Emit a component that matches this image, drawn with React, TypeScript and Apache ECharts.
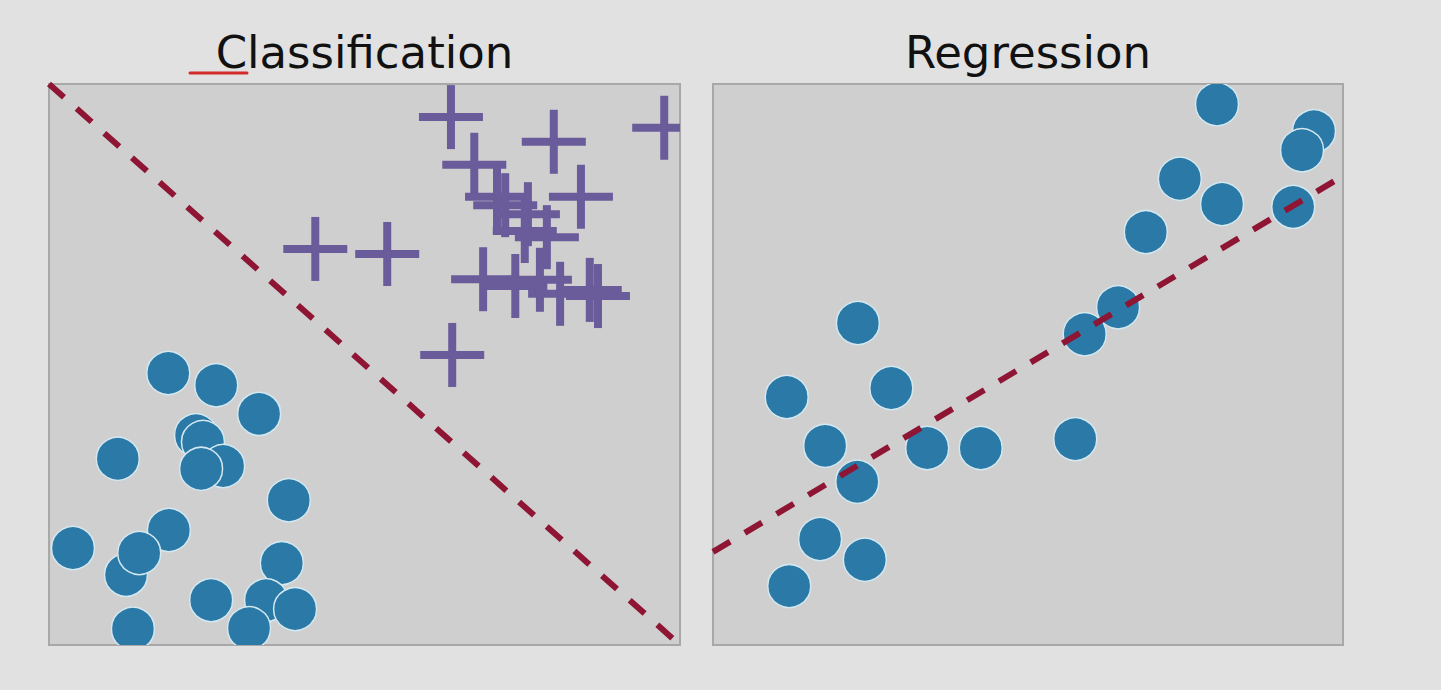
import React, { useEffect, useRef } from "react";
import * as echarts from "echarts";

// Left panel (Classification): data space 0..10 on both axes
const classCrosses: number[][] = [
  [6.37, 9.41], [8.0, 8.97], [9.75, 9.22], [6.74, 8.56], [7.1, 7.99],
  [8.43, 7.99], [7.59, 7.68], [7.54, 7.38], [7.89, 7.27], [7.23, 7.84],
  [4.22, 7.06], [5.36, 6.97], [6.88, 6.52], [7.39, 6.4], [8.1, 6.26],
  [8.57, 6.33], [8.7, 6.22], [7.78, 6.51], [6.39, 5.17],
];
const classCircles: number[][] = [
  [1.89, 4.85], [2.65, 4.63], [3.33, 4.12], [2.33, 3.74], [2.44, 3.62],
  [2.76, 3.19], [2.41, 3.14], [1.09, 3.32], [3.8, 2.58], [1.9, 2.05],
  [0.38, 1.73], [1.22, 1.25], [1.43, 1.64], [3.69, 1.46], [2.57, 0.8],
  [3.44, 0.8], [3.9, 0.64], [1.33, 0.29], [3.17, 0.3],
];
const classBoundary: number[][] = [[0, 10], [10, 0]];

// Right panel (Regression)
const regCircles: number[][] = [
  [8.0, 9.64], [9.54, 9.16], [9.35, 8.82], [7.41, 8.31], [8.08, 7.86],
  [9.21, 7.81], [6.87, 7.36], [6.43, 6.02], [5.9, 5.54], [2.3, 5.74],
  [1.17, 4.42], [2.83, 4.58], [1.78, 3.55], [2.29, 2.91], [3.4, 3.51],
  [4.25, 3.51], [5.75, 3.67], [1.7, 1.89], [2.41, 1.52], [1.21, 1.05],
];
const regLine: number[][] = [[0, 1.66], [10, 8.36]];

const titles = ["Classification", "Regression"];

const CIRCLE_R = 21.5;
const PLUS_HALF = 32;
const PLUS_THICK = 8;

const renderCircle = (params: any, api: any) => {
  const p = api.coord([api.value(0), api.value(1)]);
  return {
    type: "circle",
    shape: { cx: p[0], cy: p[1], r: CIRCLE_R },
    style: { fill: "#2a79a7", stroke: "#d3e8f0", lineWidth: 1.5 },
  };
};

const renderPlus = (params: any, api: any) => {
  const p = api.coord([api.value(0), api.value(1)]);
  const fill = "#6a5b9b";
  return {
    type: "group",
    children: [
      {
        type: "rect",
        shape: { x: p[0] - PLUS_HALF, y: p[1] - PLUS_THICK / 2, width: PLUS_HALF * 2, height: PLUS_THICK },
        style: { fill },
      },
      {
        type: "rect",
        shape: { x: p[0] - PLUS_THICK / 2, y: p[1] - PLUS_HALF, width: PLUS_THICK, height: PLUS_HALF * 2 },
        style: { fill },
      },
    ],
  };
};

export default function App() {
  const ref = useRef<HTMLDivElement>(null);
  useEffect(() => {
    if (!ref.current) return;
    const chart = echarts.init(ref.current, null, { renderer: "svg" });
    const axisCommon = { type: "value", min: 0, max: 10, show: false };
    const dashStyle = {
      color: "#8e1533",
      width: 6,
      type: [20, 17],
      cap: "butt",
    };
    chart.setOption({
      animation: false,
      backgroundColor: "#e1e1e1",
      grid: [
        {
          left: 49, top: 84, width: 631, height: 561, show: true,
          backgroundColor: "#cfcfcf", borderColor: "#a8a8a8", borderWidth: 2,
        },
        {
          left: 713, top: 84, width: 630, height: 561, show: true,
          backgroundColor: "#cfcfcf", borderColor: "#a8a8a8", borderWidth: 2,
        },
      ],
      xAxis: [
        { ...axisCommon, gridIndex: 0 },
        { ...axisCommon, gridIndex: 1 },
      ],
      yAxis: [
        { ...axisCommon, gridIndex: 0 },
        { ...axisCommon, gridIndex: 1 },
      ],
      graphic: [
        {
          type: "text", x: 364.5, y: 52,
          style: {
            text: titles[0], fontSize: 45, fontFamily: "DejaVu Sans",
            fill: "#111", align: "center", verticalAlign: "middle",
          },
        },
        {
          type: "text", x: 1028, y: 52,
          style: {
            text: titles[1], fontSize: 45, fontFamily: "DejaVu Sans",
            fill: "#111", align: "center", verticalAlign: "middle",
          },
        },
        {
          type: "line",
          shape: { x1: 190, y1: 73, x2: 247, y2: 73 },
          style: { stroke: "#d42a2a", lineWidth: 3, lineCap: "round" },
        },
      ],
      series: [
        {
          type: "custom", xAxisIndex: 0, yAxisIndex: 0, data: classCrosses,
          renderItem: renderPlus, clip: true, encode: { x: 0, y: 1 },
        },
        {
          type: "custom", xAxisIndex: 0, yAxisIndex: 0, data: classCircles,
          renderItem: renderCircle, clip: true, encode: { x: 0, y: 1 },
        },
        {
          type: "line", xAxisIndex: 0, yAxisIndex: 0, data: classBoundary,
          showSymbol: false, symbol: "none", lineStyle: dashStyle, z: 5,
        },
        {
          type: "custom", xAxisIndex: 1, yAxisIndex: 1, data: regCircles,
          renderItem: renderCircle, clip: true, encode: { x: 0, y: 1 },
        },
        {
          type: "line", xAxisIndex: 1, yAxisIndex: 1, data: regLine,
          showSymbol: false, symbol: "none", lineStyle: dashStyle, z: 5,
        },
      ],
    });
    return () => chart.dispose();
  }, []);
  return (
    <div
      ref={ref}
      style={{ position: "absolute", left: 0, top: 0, width: 1441, height: 690 }}
    />
  );
}
